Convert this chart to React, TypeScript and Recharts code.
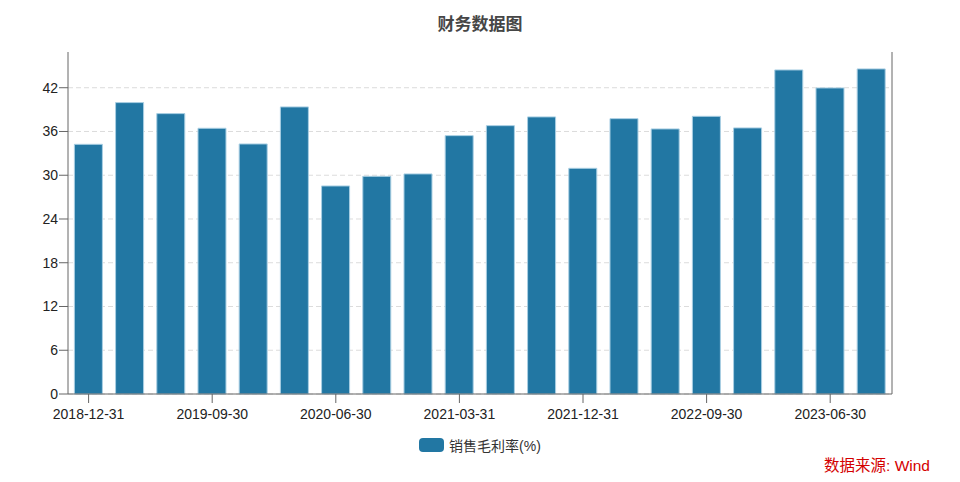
import React from "react";
import { BarChart, Bar, XAxis, YAxis, CartesianGrid } from "recharts";

const categories = [
  "2018-12-31", "2019-03-31", "2019-06-30", "2019-09-30", "2019-12-31",
  "2020-03-31", "2020-06-30", "2020-09-30", "2020-12-31", "2021-03-31",
  "2021-06-30", "2021-09-30", "2021-12-31", "2022-03-31", "2022-06-30",
  "2022-09-30", "2022-12-31", "2023-03-31", "2023-06-30", "2023-09-30",
];
const grossMargin = [
  34.24, 39.96, 38.45, 36.44, 34.29, 39.37, 28.53, 29.85, 30.18, 35.43,
  36.8, 38.0, 30.95, 37.76, 36.35, 38.08, 36.49, 44.44, 41.97, 44.58,
];
const yTicks = [0, 6, 12, 18, 24, 30, 36, 42];
const seriesName = "销售毛利率(%)";
const title = "财务数据图";
const sourceText = "数据来源: Wind";

const data = categories.map((c, i) => ({ date: c, value: grossMargin[i] }));

const FONT = "'Liberation Sans', 'Noto Sans CJK SC', sans-serif";
const BAR_COLOR = "#2277a3";
const AXIS_COLOR = "#666";
const TICK_STYLE = { fill: "#222", fontSize: 14, fontFamily: FONT };

export default function App() {
  return (
    <div style={{ position: "absolute", left: 0, top: 0, width: 960, height: 482, background: "#fff", fontFamily: FONT }}>
      <div style={{ position: "absolute", left: 0, top: 10, width: 960, textAlign: "center", fontSize: 17, fontWeight: "bold", color: "#464646" }}>
        {title}
      </div>
      <BarChart
        width={960}
        height={482}
        data={data}
        margin={{ top: 52, right: 0, left: 0, bottom: 58 }}
        barCategoryGap="15.5%"
      >
        <CartesianGrid
          yAxisId="left"
          vertical={false}
          horizontalValues={yTicks}
          stroke="#dcdcdc"
          strokeDasharray="5 3"
        />
        <XAxis
          dataKey="date"
          interval={2}
          height={30}
          tickSize={9}
          tickMargin={6}
          stroke={AXIS_COLOR}
          tick={TICK_STYLE}
        />
        <YAxis
          yAxisId="left"
          orientation="left"
          width={68}
          domain={[0, 46.9]}
          ticks={yTicks}
          tickSize={9}
          tickMargin={1}
          stroke={AXIS_COLOR}
          tick={TICK_STYLE}
        />
        <YAxis
          yAxisId="right"
          orientation="right"
          width={68}
          domain={[0, 46.9]}
          ticks={yTicks}
          tickSize={9}
          tickMargin={1}
          stroke={AXIS_COLOR}
          tick={TICK_STYLE}
        />
        <Bar
          yAxisId="left"
          dataKey="value"
          name={seriesName}
          fill={BAR_COLOR}
          stroke="#a9cfe3"
          strokeWidth={1}
          isAnimationActive={false}
        />
      </BarChart>
      <div style={{ position: "absolute", left: 0, top: 435, width: 960, display: "flex", justifyContent: "center", alignItems: "center" }}>
        <div style={{ width: 25, height: 14, borderRadius: 4, background: BAR_COLOR, marginRight: 5 }} />
        <span style={{ fontSize: 14, color: "#333" }}>{seriesName}</span>
      </div>
      <div style={{ position: "absolute", right: 30, top: 453, fontSize: 15.5, color: "#d40000" }}>
        {sourceText}
      </div>
    </div>
  );
}
